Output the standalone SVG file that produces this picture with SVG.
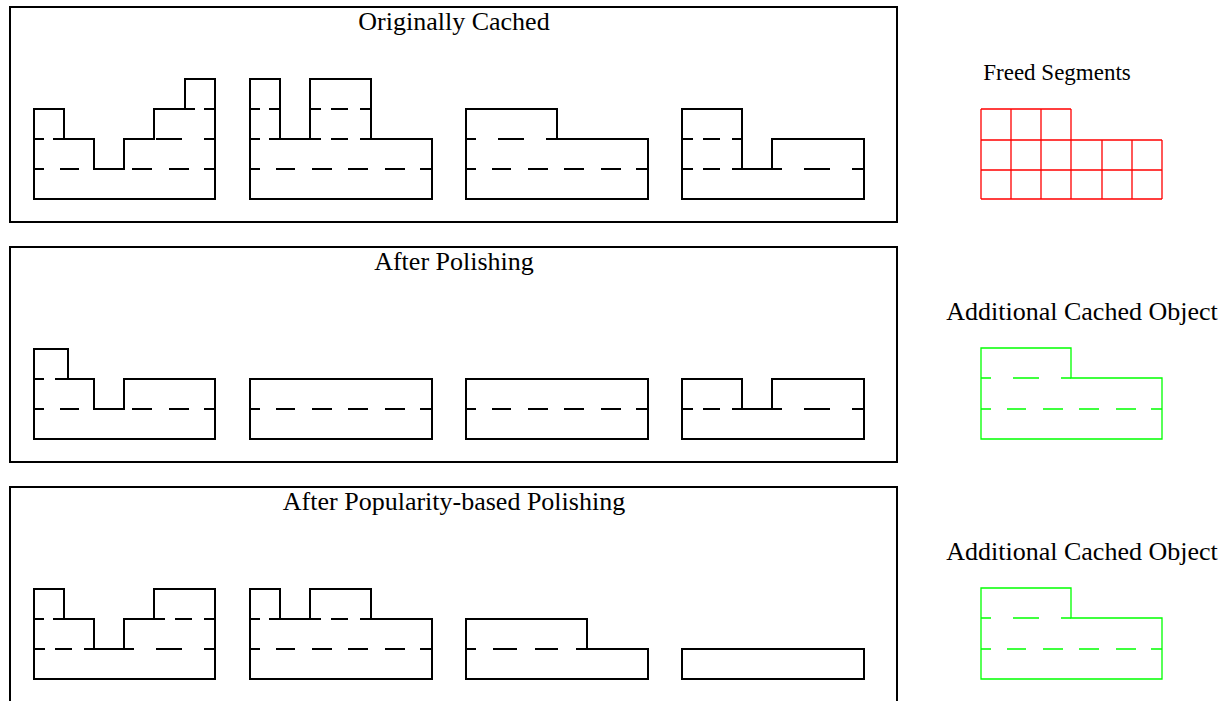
<svg xmlns="http://www.w3.org/2000/svg" width="1231" height="701" viewBox="0 0 1231 701">
<style>
text{font-family:"Liberation Serif","Times New Roman",serif;font-size:26px;fill:#000}
text.small{font-size:23px}
.panel{fill:none;stroke:#000;stroke-width:2}
.obj{fill:none;stroke:#000;stroke-width:2;stroke-linejoin:miter}
.dl{fill:none;stroke:#000;stroke-width:2}
.g .obj,.g .dl{stroke:#00ff00;stroke-width:1.3}
.red{fill:none;stroke:#ff0000;stroke-width:1.3}
.d30{stroke-dasharray:10 9 11 20}
.d34{stroke-dasharray:10 11 13 20}
.d60{stroke-dasharray:11 10 17 12 11 20}
.d91{stroke-dasharray:10 22 26 22 11 20}
.d121{stroke-dasharray:10 17 24 18 23 18 11 20}
.d182{stroke-dasharray:10 16 19 17 20 16 20 17 20 15 12 20}
</style>

<g id="panel-original">
  <rect class="panel" x="10" y="7" width="887" height="215"/>
  <text x="454" y="30" text-anchor="middle">Originally Cached</text>
  <g id="p1-obj1">
    <path class="obj" d="M34,199V109H64V139H94V169H124V139H154V109H185V79H215V199Z"/>
    <path class="dl d30" d="M185,109H215"/>
    <path class="dl d30" d="M34,139H64"/>
    <path class="dl d91" d="M124,139H215"/>
    <path class="dl d182" d="M34,169H215"/>
  </g>
  <g id="p1-obj2">
    <path class="obj" d="M250,199V79H280V139H310V79H371V139H432V199Z"/>
    <path class="dl d30" d="M250,109H280"/>
    <path class="dl d60" d="M310,109H371"/>
    <path class="dl d30" d="M250,139H280"/>
    <path class="dl d60" d="M310,139H371"/>
    <path class="dl d182" d="M250,169H432"/>
  </g>
  <g id="p1-obj3">
    <path class="obj" d="M466,199V109H557V139H648V199Z"/>
    <path class="dl d91" d="M466,139H557"/>
    <path class="dl d182" d="M466,169H648"/>
  </g>
  <g id="p1-obj4">
    <path class="obj" d="M682,199V109H742V169H772V139H864V199Z"/>
    <path class="dl d60" d="M682,139H742"/>
    <path class="dl d60" d="M682,169H742"/>
    <path class="dl d91" d="M772,169H864"/>
  </g>
</g>

<g id="panel-polishing">
  <rect class="panel" x="10" y="247" width="887" height="215"/>
  <text x="454" y="270" text-anchor="middle">After Polishing</text>
  <g id="p2-obj1">
    <path class="obj" d="M34,439V349H68V379H94V409H124V379H215V439Z"/>
    <path class="dl d34" d="M34,379H68"/>
    <path class="dl d182" d="M34,409H215"/>
  </g>
  <g id="p2-obj2">
    <path class="obj" d="M250,439V379H432V439Z"/>
    <path class="dl d182" d="M250,409H432"/>
  </g>
  <g id="p2-obj3">
    <path class="obj" d="M466,439V379H648V439Z"/>
    <path class="dl d182" d="M466,409H648"/>
  </g>
  <g id="p2-obj4">
    <path class="obj" d="M682,439V379H742V409H772V379H864V439Z"/>
    <path class="dl d60" d="M682,409H742"/>
    <path class="dl d91" d="M772,409H864"/>
  </g>
</g>

<g id="panel-popularity">
  <rect class="panel" x="10" y="487" width="887" height="215"/>
  <text x="454" y="510" text-anchor="middle">After Popularity-based Polishing</text>
  <g id="p3-obj1">
    <path class="obj" d="M34,679V589H64V619H94V649H124V619H154V589H215V679Z"/>
    <path class="dl d30" d="M34,619H64"/>
    <path class="dl d60" d="M154,619H215"/>
    <path class="dl d60" d="M34,649H94"/>
    <path class="dl d91" d="M124,649H215"/>
  </g>
  <g id="p3-obj2">
    <path class="obj" d="M250,679V589H280V619H310V589H371V619H432V679Z"/>
    <path class="dl d30" d="M250,619H280"/>
    <path class="dl d60" d="M310,619H371"/>
    <path class="dl d182" d="M250,649H432"/>
  </g>
  <g id="p3-obj3">
    <path class="obj" d="M466,679V619H587V649H648V679Z"/>
    <path class="dl d121" d="M466,649H587"/>
  </g>
  <g id="p3-obj4">
    <rect class="obj" x="682" y="649" width="182" height="30"/>
  </g>
</g>

<g id="freed-segments">
  <text class="small" x="1057" y="80" text-anchor="middle">Freed Segments</text>
  <path class="red" d="M981,109H1071M981,140H1162M981,170H1162M981,199H1162M981,109V199M1011,109V199M1041,109V199M1071,109V199M1102,140V199M1132,140V199M1162,140V199"/>
</g>

<g id="additional-1" class="g">
  <text x="1082" y="320" text-anchor="middle">Additional Cached Object</text>
  <path class="obj" d="M981,439V348H1071V378H1162V439Z"/>
  <path class="dl d91" d="M981,378H1071"/>
  <path class="dl d182" d="M981,409H1162"/>
</g>

<g id="additional-2" class="g">
  <text x="1082" y="560" text-anchor="middle">Additional Cached Object</text>
  <path class="obj" d="M981,679V588H1071V618H1162V679Z"/>
  <path class="dl d91" d="M981,618H1071"/>
  <path class="dl d182" d="M981,649H1162"/>
</g>
</svg>
